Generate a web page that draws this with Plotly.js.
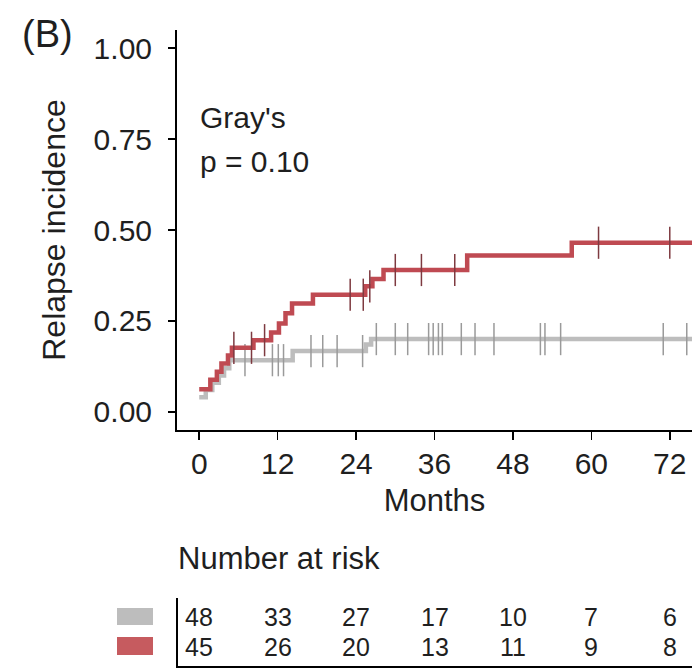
<!DOCTYPE html>
<html>
<head>
<meta charset="utf-8">
<script src="https://cdn.plot.ly/plotly-3.0.1.min.js"></script>
<style>html,body{margin:0;padding:0;background:#fff;}#chart{width:692px;height:671px;}</style>
</head>
<body>
<div id="chart"></div>
<script>
// ---- data ----
const redTimes   = [0, 1.7, 2.7, 3.4, 4.4, 5.0, 8.3, 11.0, 12.2, 13.2, 14.2, 17.4, 25.4, 26.5, 28.2, 41.0, 57.0, 80];
const redValues  = [0.062, 0.088, 0.11, 0.133, 0.155, 0.176, 0.197, 0.218, 0.243, 0.271, 0.298, 0.322, 0.345, 0.365, 0.39, 0.43, 0.465, 0.465];
const redCensor  = [5.3, 8.0, 10.0, 23.1, 25.1, 26.1, 30.0, 34.0, 39.1, 61.1, 72.0];

const grayTimes  = [0, 1.0, 2.0, 3.0, 3.8, 4.6, 14.3, 25.5, 26.3, 80];
const grayValues = [0.04, 0.06, 0.08, 0.10, 0.12, 0.142, 0.167, 0.185, 0.2, 0.2];
const grayCensor = [7.0, 11.2, 12.1, 12.9, 17.1, 18.9, 21.1, 25.0, 27.1, 30.0, 31.9, 35.1, 35.8, 36.6, 37.2, 40.1, 42.2, 45.1, 52.2, 52.9, 55.3, 71.0, 74.6];

const riskMonths = [0, 12, 24, 36, 48, 60, 72];
const riskGray   = [48, 33, 27, 17, 10, 7, 6];
const riskRed    = [45, 26, 20, 13, 11, 9, 8];

const xTicks = [0, 12, 24, 36, 48, 60, 72];
const yTicks = [0, 0.25, 0.5, 0.75, 1.0];

const pText = "Gray's";
const pValue = "p = 0.10";

// ---- styles ----
const RED = '#bf4a52', GRAY = '#bdbdbd';
const RED_C = '#7e3a40', GRAY_C = '#9a9a9a';
const FONT = 'Liberation Sans, Arial, Helvetica, sans-serif';
const TXT = '#1f1f1f';

function stepAt(ts, vs, t) {
  let v = vs[0];
  for (let i = 0; i < ts.length; i++) { if (ts[i] <= t) v = vs[i]; }
  return v;
}

const traces = [
  {x: grayTimes, y: grayValues, mode: 'lines', line: {shape: 'hv', color: GRAY, width: 4.5}, hoverinfo: 'skip'},
  {x: grayCensor, y: grayCensor.map(t => stepAt(grayTimes, grayValues, t)), mode: 'markers',
   marker: {symbol: 'line-ns', size: 23, line: {width: 1.5, color: GRAY_C}}, hoverinfo: 'skip'},
  {x: redTimes, y: redValues, mode: 'lines', line: {shape: 'hv', color: RED, width: 4.5}, hoverinfo: 'skip'},
  {x: redCensor, y: redCensor.map(t => stepAt(redTimes, redValues, t)), mode: 'markers',
   marker: {symbol: 'line-ns', size: 23, line: {width: 1.5, color: RED_C}}, hoverinfo: 'skip'}
];

// layout geometry (pixels): plot area x 177..692, y 30..430
const L = 177, T = 30, W = 515, H = 400;
const px = x => (x - L) / W;
const py = y => (T + H - y) / H;

const annotations = [];
riskMonths.forEach((m, i) => {
  annotations.push({x: m, xref: 'x', y: py(617), yref: 'paper', text: String(riskGray[i]), showarrow: false,
    xanchor: 'center', yanchor: 'middle', font: {family: FONT, size: 25, color: TXT}});
  annotations.push({x: m, xref: 'x', y: py(647), yref: 'paper', text: String(riskRed[i]), showarrow: false,
    xanchor: 'center', yanchor: 'middle', font: {family: FONT, size: 25, color: TXT}});
});
annotations.push({x: px(176), xref: 'paper', y: py(558), yref: 'paper', text: 'Number at risk', showarrow: false,
  xanchor: 'left', yanchor: 'middle', font: {family: FONT, size: 31, color: TXT}});
annotations.push({x: px(198), xref: 'paper', y: py(117), yref: 'paper', text: pText, showarrow: false,
  xanchor: 'left', yanchor: 'middle', font: {family: FONT, size: 30, color: TXT}});
annotations.push({x: px(198), xref: 'paper', y: py(162), yref: 'paper', text: pValue, showarrow: false,
  xanchor: 'left', yanchor: 'middle', font: {family: FONT, size: 30, color: TXT}});
annotations.push({x: px(20), xref: 'paper', y: py(34), yref: 'paper', text: '(B)', showarrow: false,
  xanchor: 'left', yanchor: 'middle', font: {family: FONT, size: 38, color: TXT}});

const shapes = [
  {type: 'rect', xref: 'paper', yref: 'paper', x0: px(117), x1: px(153), y0: py(608), y1: py(625), fillcolor: GRAY, line: {width: 0}},
  {type: 'rect', xref: 'paper', yref: 'paper', x0: px(117), x1: px(153), y0: py(637), y1: py(655), fillcolor: '#c65b5f', line: {width: 0}},
  {type: 'line', xref: 'paper', yref: 'paper', x0: px(177), x1: px(177), y0: py(598), y1: py(667), line: {color: '#000', width: 2}},
  {type: 'line', xref: 'paper', yref: 'paper', x0: px(176), x1: px(692), y0: py(667), y1: py(667), line: {color: '#000', width: 2}}
];

const layout = {
  width: 692, height: 671,
  margin: {l: L, r: 0, t: T, b: 671 - T - H, pad: 0},
  paper_bgcolor: '#fff', plot_bgcolor: '#fff',
  showlegend: false,
  font: {family: FONT, color: TXT},
  xaxis: {
    range: [-3.4, 75.4], tickvals: xTicks, ticktext: xTicks.map(String),
    showgrid: false, zeroline: false, showline: true, linecolor: '#000', linewidth: 2,
    ticks: 'outside', ticklen: 8, tickwidth: 1.5, tickcolor: '#000', ticklabelstandoff: -2,
    tickfont: {family: FONT, size: 30, color: TXT},
    title: {text: 'Months', font: {family: FONT, size: 31, color: TXT}, standoff: 10}
  },
  yaxis: {
    range: [-0.05, 1.05], tickvals: yTicks, tickformat: '.2f',
    showgrid: false, zeroline: false, showline: true, linecolor: '#000', linewidth: 2,
    ticks: 'outside', ticklen: 7, tickwidth: 1.5, tickcolor: '#000', ticklabelstandoff: 10,
    tickfont: {family: FONT, size: 30, color: TXT},
    title: {text: 'Relapse incidence', font: {family: FONT, size: 32, color: TXT}, standoff: 18}
  },
  annotations: annotations,
  shapes: shapes
};

Plotly.newPlot('chart', traces, layout, {displayModeBar: false, staticPlot: true});
</script>
</body>
</html>
